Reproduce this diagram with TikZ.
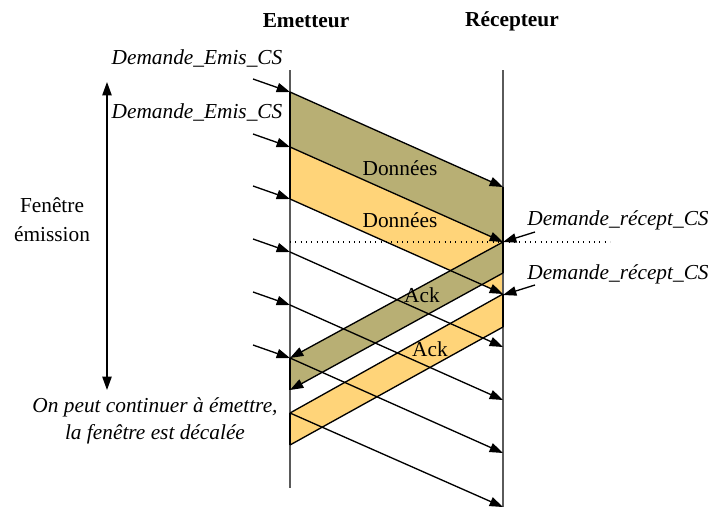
\documentclass[tikz,border=0pt]{standalone}
\usepackage{fontspec}
\setmainfont{Liberation Serif}
\usetikzlibrary{arrows.meta,calc}
\definecolor{olivefill}{RGB}{184,175,116}
\definecolor{yellowfill}{RGB}{255,212,121}
\definecolor{axisgray}{RGB}{90,90,90}
\begin{document}
\begin{tikzpicture}[x=0.75pt,y=-0.75pt,
  txt/.style={font=\fontsize{16}{19}\selectfont, inner sep=0pt},
  itxt/.style={txt, font=\fontsize{16}{19}\selectfont\itshape},
  head/.style={txt, font=\fontsize{16}{19}\selectfont\bfseries},
  axis/.style={draw=axisgray, line width=0.9pt},
  msg/.style={draw=black, line width=1pt},
  arr/.style={msg, -{Triangle[length=10pt,width=7pt]}},
  olivebox/.style={fill=olivefill},
  yellowbox/.style={fill=yellowfill}]
\useasboundingbox (0,0) rectangle (715,507);

% timelines
\coordinate (Etop) at (290,70);
\coordinate (Ebot) at (290,488);
\coordinate (Rtop) at (503,70);
\coordinate (Rbot) at (503,507);

% emitter points
\foreach \n/\y in {1/92,2/147,3/199,4/252,5/305,6/358,7/390,8/413,9/445}
  \coordinate (E\n) at (290,\y);
% receiver points
\foreach \n/\y in {1/187,2/242,3/294,4/347,5/400,6/453,7/507,8/273,9/327}
  \coordinate (R\n) at (503,\y);
% input arrow starts
\foreach \n in {1,...,6}
  \coordinate (S\n) at ($(E\n)+(-37,-13)$);

% fills
\fill[olivebox] (E1) -- (R1) -- (R2) -- (E2) -- cycle;
\fill[yellowbox] (E2) -- (R2) -- (R3) -- (E3) -- cycle;
\fill[olivebox] (R2) -- (E6) -- (E7) -- (R8) -- cycle;
\fill[yellowbox] (R3) -- (E8) -- (E9) -- (R9) -- cycle;

% timelines
\draw[axis] (Etop) -- (Ebot);
\draw[axis] (Rtop) -- (Rbot);
\draw[msg] (R1) -- (R2);
\draw[msg] (E1) -- (E3);

% dotted line
\coordinate (D2) at (610,242);
\draw[line width=0.8pt, dash pattern=on 0.8pt off 3.2pt] (E4 |- R2) -- (D2);

% data messages
\draw[arr] (E1) -- (R1);
\draw[arr] (E2) -- (R2);
\draw[arr] (E3) -- (R3);
\draw[arr] (E4) -- (R4);
\draw[arr] (E5) -- (R5);
\draw[arr] (E6) -- (R6);
\draw[arr] (E8) -- (R7);

% acks
\draw[arr] (R2) -- (E6);
\draw[arr] (R8) -- (E7);
\draw[msg] (R3) -- (E8);
\draw[msg] (R9) -- (E9);
\draw[msg] (E6) -- (E7);
\draw[msg] (R2) -- (R8);
\draw[msg] (E8) -- (E9);
\draw[msg] (R3) -- (R9);

% incoming arrows
\foreach \n in {1,...,6}
  \draw[arr] (S\n) -- (E\n);

% receiver side requests
\coordinate (Q1) at (535,232);
\coordinate (Q2) at (535,285);
\coordinate (P2) at (503,295);
\draw[arr] (Q1) -- (R2);
\draw[arr] (Q2) -- (P2);

% window arrow
\coordinate (W1) at (107,82);
\coordinate (W2) at (107,390);
\draw[msg, {Triangle[length=10pt,width=7pt]}-{Triangle[length=10pt,width=7pt]}] (W1) -- (W2);

% texts
\node[head] (he) at (306,21) {Emetteur};
\node[head] (hr) at (512,21) {Récepteur};
\node[itxt] (de1) at (197,58) {Demande\_Emis\_CS};
\node[itxt] (de2) at (197,112) {Demande\_Emis\_CS};
\node[txt, align=center] (fen) at (52,220) {Fenêtre\\[3pt]émission};
\node[txt] (d1) at (400,168) {Données};
\node[txt] (d2) at (400,220) {Données};
\node[txt] (a1) at (422,295) {Ack};
\node[txt] (a2) at (430,349) {Ack};
\node[itxt] (dr1) at (618,220) {Demande\_récept\_CS};
\node[itxt] (dr2) at (618,274) {Demande\_récept\_CS};
\node[itxt, align=center] (cont) at (155,421) {On peut continuer à émettre,\\[1pt]la fenêtre est décalée};
\end{tikzpicture}
\end{document}
